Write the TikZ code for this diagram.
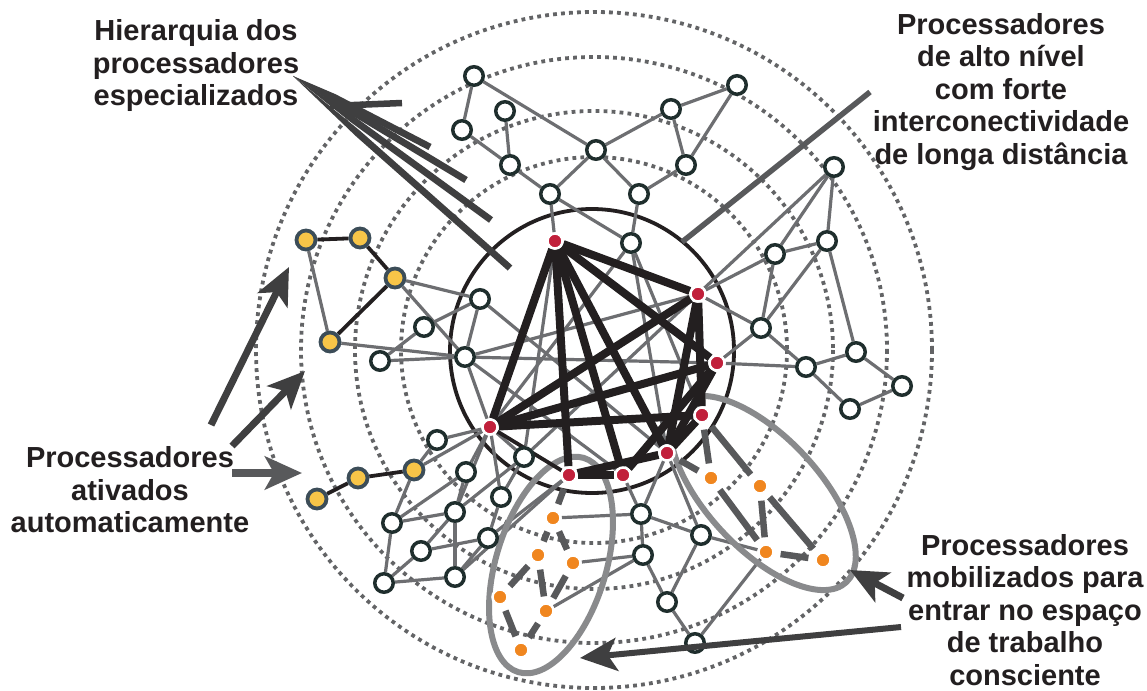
\documentclass[tikz,border=0pt]{standalone}
\usepackage{fontspec}
\setmainfont{Liberation Sans}
\usetikzlibrary{arrows.meta,calc}

\definecolor{ink}{HTML}{231F20}
\definecolor{edgegray}{HTML}{6D6E71}
\definecolor{dotgray}{HTML}{636466}
\definecolor{hubred}{HTML}{C1203B}
\definecolor{amber}{HTML}{F7C548}
\definecolor{slate}{HTML}{3C4D58}
\definecolor{tangerine}{HTML}{F0861F}
\definecolor{nodeline}{HTML}{1F2E2D}
\definecolor{loopgray}{HTML}{898A8C}
\definecolor{arrowgray}{HTML}{3F3F40}
\definecolor{linkgray}{HTML}{58595B}

\pgfdeclarelayer{paper}
\pgfdeclarelayer{back}
\pgfdeclarelayer{bg}
\pgfsetlayers{paper,back,bg,main}

\tikzset{
  whitenode/.style={circle, draw=nodeline, fill=white, line width=3.5pt, minimum size=18.5pt, inner sep=0pt},
  ambernode/.style={circle, draw=slate, fill=amber, line width=3.8pt, minimum size=19pt, inner sep=0pt},
  hubnode/.style={circle, draw=white, fill=hubred, line width=2.5pt, minimum size=15pt, inner sep=0pt},
  mobnode/.style={circle, draw=white, fill=tangerine, line width=2.5pt, minimum size=15pt, inner sep=0pt},
  graylink/.style={draw=edgegray, line width=3.2pt},
  inklink/.style={draw=ink, line width=3.8pt},
  corelink/.style={draw=ink, line width=8pt},
  moblink/.style={draw=linkgray, line width=6.5pt, shorten <=6pt, shorten >=6pt},
  orbit/.style={draw=dotgray, line width=3.8pt, dash pattern=on 3.8pt off 4.2pt},
  grouploop/.style={draw=loopgray, line width=6pt},
  pointer/.style={draw=arrowgray, line width=7pt, -{Stealth[length=37pt, width=33pt, inset=9pt]}},
  txt/.style={align=center, text=ink, font=\fontsize{29}{32.5}\selectfont\bfseries}
}

\begin{document}
\begin{tikzpicture}[x=1pt,y=-1pt]
\useasboundingbox (0,0) rectangle (1147,690);
\begin{pgfonlayer}{paper}
  \fill[white] (0,0) rectangle (1147,690);
\end{pgfonlayer}

% ---------- processors ----------
% hub (high level)
\node[hubnode] (r1) at (555,241) {};
\node[hubnode] (r2) at (698,294) {};
\node[hubnode] (r3) at (717,363) {};
\node[hubnode] (r4) at (702,415) {};
\node[hubnode] (r5) at (667,453) {};
\node[hubnode] (r6) at (623,475) {};
\node[hubnode] (r7) at (569,475) {};
\node[hubnode] (r8) at (490,427) {};
% upper group
\node[whitenode] (w1) at (474,76) {};
\node[whitenode] (w2) at (505,111) {};
\node[whitenode] (w3) at (462,130) {};
\node[whitenode] (w4) at (510,165) {};
\node[whitenode] (w5) at (550,194) {};
\node[whitenode] (w6) at (596,150) {};
\node[whitenode] (w7) at (671,109) {};
\node[whitenode] (w8) at (737,85) {};
\node[whitenode] (w9) at (686,165) {};
\node[whitenode] (w10) at (639,194) {};
\node[whitenode] (w11) at (631,243) {};
% right group
\node[whitenode] (e1) at (834,167) {};
\node[whitenode] (e2) at (827,241) {};
\node[whitenode] (e3) at (775,254) {};
\node[whitenode] (e4) at (761,328) {};
\node[whitenode] (e5) at (806,367) {};
\node[whitenode] (e6) at (856,352) {};
\node[whitenode] (e7) at (902,386) {};
\node[whitenode] (e8) at (850,409) {};
% automatic processors
\node[ambernode] (y1) at (306,240) {};
\node[ambernode] (y2) at (360,238) {};
\node[ambernode] (y3) at (395,278) {};
\node[ambernode] (y4) at (330,342) {};
\node[ambernode] (y5) at (414,470) {};
\node[ambernode] (y6) at (358,478) {};
\node[ambernode] (y7) at (317,499) {};
% left group
\node[whitenode] (l1) at (480,299) {};
\node[whitenode] (l2) at (424,327) {};
\node[whitenode] (l3) at (465,357) {};
\node[whitenode] (l4) at (380,361) {};
% lower left group
\node[whitenode] (b1) at (437,440) {};
\node[whitenode] (b2) at (466,472) {};
\node[whitenode] (b3) at (524,457) {};
\node[whitenode] (b4) at (501,497) {};
\node[whitenode] (b5) at (392,523) {};
\node[whitenode] (b6) at (455,512) {};
\node[whitenode] (b7) at (488,538) {};
\node[whitenode] (b8) at (421,551) {};
\node[whitenode] (b9) at (384,583) {};
\node[whitenode] (b10) at (455,577) {};
% lower right group
\node[whitenode] (c1) at (641,514) {};
\node[whitenode] (c2) at (643,555) {};
\node[whitenode] (c3) at (701,535) {};
\node[whitenode] (c4) at (667,602) {};
\node[whitenode] (c5) at (695,643) {};
% mobilized processors
\node[mobnode] (o1) at (553,518) {};
\node[mobnode] (o2) at (538,555) {};
\node[mobnode] (o3) at (573,563) {};
\node[mobnode] (o4) at (500,597) {};
\node[mobnode] (o5) at (546,611) {};
\node[mobnode] (o6) at (521,650) {};
\node[mobnode] (o7) at (711,478) {};
\node[mobnode] (o8) at (760,486) {};
\node[mobnode] (o9) at (766,552) {};
\node[mobnode] (o10) at (823,560) {};

% ---------- captions ----------
\node[txt] (hier) at (196,66) {Hierarquia dos\\processadores\\especializados};
\node[txt] (high) at (1001,92) {Processadores\\de alto nível\\com forte\\interconectividade\\de longa distância};
\node[txt] (auto) at (130,490) {Processadores\\ativados\\automaticamente};
\node[txt] (mob) at (1025,610) {Processadores\\mobilizados para\\entrar no espaço\\de trabalho\\consciente};

% ---------- concentric levels ----------
\begin{pgfonlayer}{back}
  \foreach \r in {338,293,239,193}
    \draw[orbit] (594,350) circle[radius=\r];
  \draw[ink, line width=3.8pt] (592,351) circle[radius=142];
\end{pgfonlayer}

% ---------- connections ----------
\begin{pgfonlayer}{bg}
  % thin grey links
  \foreach \a/\b in {w1/w3, w1/w6, w2/w4, w3/w4, w4/w5, w5/w6, w6/w7, w6/w10,
                     w7/w8, w7/w9, w8/w9, w9/w10, w10/w11, w5/w11, w5/r1,
                     w11/r8, w11/r5, w11/r4,
                     e1/e2, e1/e3, e1/r2, e2/e3, e2/e4, e2/e6, e3/e4, e3/r2,
                     e4/r2, e4/r3, e4/e5, e5/r3, e5/e6, e5/e8, e6/e7, e7/e8,
                     y1/y4, y3/l1, y3/l3, y4/l3, l4/l3, l4/l2, l2/l1, l1/l3,
                     l3/r2, l3/r3, l3/r8, l1/r5, l3/r6, r1/b3, b3/r2,
                     r8/b1, r8/y5, r8/b2, r8/b4, r8/b6, r8/b3, b1/y5, y5/b5,
                     b2/b5, b2/b6, b3/b6, b3/b4, b4/b7, b5/b6, b5/b9, b6/b10,
                     b6/b8, b7/b8, b8/b9, b9/b10, b10/b7, b7/r7, b10/r7,
                     o1/c1, o3/c2, o5/c2, c1/r6, c1/r5, c1/c2, c1/c3, c2/c4,
                     c3/c4, c3/o9, r5/c3, c4/c5, c5/o9}
    \draw[graylink] (\a) -- (\b);

  % groups of mobilized processors
  \draw[grouploop, rotate around={73:(551,565)}] (551,565) ellipse[x radius=112, y radius=55];
  \draw[grouploop, rotate around={-47:(763,493)}] (763,493) ellipse[x radius=122, y radius=56];

  % links among automatic processors
  \foreach \a/\b in {y1/y2, y2/y3, y3/y4, y5/y6, y6/y7, r8/r7}
    \draw[inklink] (\a) -- (\b);

  % long-distance links of the hub
  \foreach \a/\b in {r1/r2, r1/r3, r1/r5, r1/r6, r1/r7, r1/r8, r8/r2, r8/r3,
                     r8/r4, r2/r4, r2/r5, r3/r5, r3/r6, r4/r5, r5/r7, r6/r7}
    \draw[corelink] (\a) -- (\b);

  % links recruited into the workspace
  \foreach \a/\b in {r7/o1, o1/o2, o1/o3, o2/o4, o2/o5, o3/o5, o4/o6, o5/o6,
                     r4/o7, r4/o8, r5/o7, o7/o9, o8/o9, o8/o10, o9/o10}
    \draw[moblink] (\a) -- (\b);
\end{pgfonlayer}

% ---------- callout lines ----------
\coordinate (hp) at (293,76);
\coordinate (hq1) at (430,147);
\coordinate (hq2) at (466,180);
\coordinate (hq3) at (491,220);
\coordinate (hq4) at (510,268);
\coordinate (hb0) at (330,106);
\coordinate (hb1) at (402,103);
\foreach \q in {hq1,hq2,hq3,hq4}{
  \coordinate (hm) at ($(hp)!0.3!(\q)$);
  \fill[arrowgray] (hp) -- ($(hm)!3.4pt!90:(hp)$) -- ($(\q)!3.4pt!90:(hp)$)
       -- ($(\q)!3.4pt!-90:(hp)$) -- ($(hm)!3.4pt!-90:(hp)$) -- cycle;
}
\draw[arrowgray, line width=6.5pt] (hb0) -- (hb1);

\coordinate (hl0) at (870,92);
\coordinate (hl1) at (682,242);
\draw[linkgray, line width=5.5pt] (hl0) -- (hl1);

\coordinate (a1s) at (211,425);
\coordinate (a1e) at (289,267);
\coordinate (a2s) at (232,446);
\coordinate (a2e) at (305,371);
\coordinate (a3s) at (232,473);
\coordinate (a3e) at (302,473);
\draw[pointer] (a1s) -- (a1e);
\draw[pointer] (a2s) -- (a2e);
\draw[pointer, draw=linkgray, line width=8pt] (a3s) -- (a3e);

\coordinate (m1s) at (901,627);
\coordinate (m1e) at (580,658);
\coordinate (m2s) at (903,598);
\coordinate (m2e) at (850,570);
\draw[pointer, line width=6pt] (m1s) -- (m1e);
\draw[pointer] (m2s) -- (m2e);
\end{tikzpicture}
\end{document}
